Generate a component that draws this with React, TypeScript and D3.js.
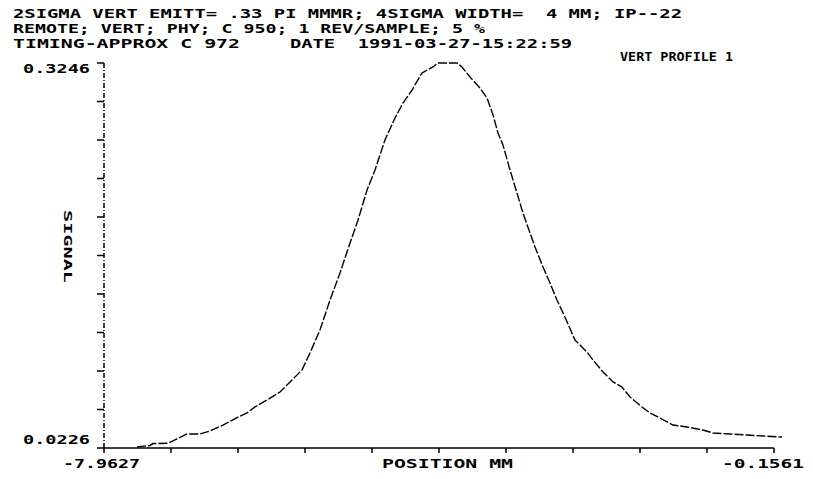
import React from 'react';
import * as d3 from 'd3';

// Profile samples (position in mm, signal)
const posMm = [
  -7.578, -7.427, -7.392, -7.217, -7.112, -6.996, -6.844, -6.728, -6.576, -6.401,
  -6.297, -6.203, -6.064, -5.912, -5.772, -5.656, -5.563, -5.446, -5.329, -5.213,
  -5.096, -5.003, -4.898, -4.805, -4.689, -4.572, -4.479, -4.374, -4.258, -4.129,
  -4.071, -3.850, -3.792, -3.698, -3.582, -3.500, -3.430, -3.372, -3.314, -3.232,
  -3.151, -3.081, -2.999, -2.941, -2.848, -2.766, -2.685, -2.592, -2.475, -2.335,
  -2.265, -2.149, -2.032, -1.927, -1.834, -1.694, -1.601, -1.485, -1.333, -1.170,
  -0.984, -0.867, -0.669, -0.471, -0.285, -0.063,
];
const signal = [
  0.0234, 0.0246, 0.0261, 0.0263, 0.0297, 0.0336, 0.0336, 0.0359, 0.0406, 0.0469,
  0.0501, 0.0548, 0.0603, 0.0665, 0.0759, 0.0838, 0.0971, 0.1152, 0.1387, 0.1599,
  0.1834, 0.2014, 0.2250, 0.2407, 0.2642, 0.2815, 0.2932, 0.3034, 0.3168, 0.3215,
  0.3246, 0.3246, 0.3215, 0.3136, 0.3050, 0.2971, 0.2838, 0.2697, 0.2603, 0.2407,
  0.2226, 0.2069, 0.1913, 0.1803, 0.1646, 0.1520, 0.1387, 0.1254, 0.1073, 0.0979,
  0.0916, 0.0822, 0.0744, 0.0704, 0.0626, 0.0548, 0.0501, 0.0461, 0.0406, 0.0391,
  0.0367, 0.0344, 0.0336, 0.0328, 0.0320, 0.0312,
];

const xDomain = [-7.9627, -0.1561];
const yDomain = [0.0226, 0.3246];
const xEndLabels = ['-7.9627', '-0.1561'];
const yEndLabels = ['0.0226', '0.3246'];
const tickCount = 10;

const header1 = '2SIGMA VERT EMITT= .33 PI MMMR; 4SIGMA WIDTH=  4 MM; IP--22';
const header2 = 'REMOTE; VERT; PHY; C 950; 1 REV/SAMPLE; 5 %';
const header3a = 'TIMING-APPROX C 972';
const header3b = 'DATE  1991-03-27-15:22:59';
const plotTitle = 'VERT PROFILE 1';
const xTitle = 'POSITION MM';
const yTitle = 'SIGNAL';

const font = '"DejaVu Sans Mono", "Liberation Mono", monospace';

export default function App() {
  const width = 813;
  const height = 479;
  const left = 104;
  const right = 774;
  const top = 63;
  const bottom = 448;

  const x = d3.scaleLinear().domain(xDomain).range([left, right]);
  const y = d3.scaleLinear().domain(yDomain).range([bottom, top]);

  const xTicks = d3.range(tickCount + 1).map(i => xDomain[0] + (i * (xDomain[1] - xDomain[0])) / tickCount);
  const yTicks = d3.range(tickCount + 1).map(i => yDomain[0] + (i * (yDomain[1] - yDomain[0])) / tickCount);

  const points = posMm.map((p, i) => [p, signal[i]] as [number, number]);
  const line = d3.line<[number, number]>()
    .x(d => x(d[0]))
    .y(d => y(d[1]));

  const txt = (s: string, tx: number, ty: number, len: number) => (
    <text x={tx} y={ty} textLength={len} lengthAdjust="spacingAndGlyphs"
      fontFamily={font} fontSize={13} fontWeight="bold" fill="#000"
      style={{ whiteSpace: 'pre' }}>{s}</text>
  );

  return (
    <svg width={width} height={height}
      style={{ position: 'absolute', left: 0, top: 0, background: '#fff' }}>
      {txt(header1, 13, 18, 669)}
      {txt(header2, 13, 33, 472)}
      {txt(header3a, 13, 48, 227)}
      {txt(header3b, 290, 48, 282)}
      {txt(plotTitle, 620, 61, 113)}

      {/* y axis */}
      <line x1={left} x2={left} y1={y(yDomain[0])} y2={y(yDomain[1])}
        stroke="#000" strokeWidth={1.5} strokeDasharray="5 2 1 2" />
      {yTicks.map((t, i) => (
        <line key={'yt' + i} x1={left - 7} x2={left} y1={y(t)} y2={y(t)}
          stroke="#000" strokeWidth={1.5} />
      ))}
      {txt(yEndLabels[1], 23, y(yDomain[1]) + 10, 67)}
      {txt(yEndLabels[0], 23, y(yDomain[0]) - 4, 67)}
      <text transform={`translate(64, 210) rotate(90)`} textLength={73}
        lengthAdjust="spacingAndGlyphs" fontFamily={font} fontSize={11} fontWeight="bold" fill="#000">{yTitle}</text>

      {/* x axis */}
      <line x1={x(xDomain[0])} x2={x(xDomain[1])} y1={bottom} y2={bottom}
        stroke="#000" strokeWidth={1.5} />
      {xTicks.map((t, i) => (
        <line key={'xt' + i} x1={x(t)} x2={x(t)} y1={bottom} y2={bottom + 5}
          stroke="#000" strokeWidth={1.5} />
      ))}
      {txt(xEndLabels[0], 63, 468, 77)}
      {txt(xTitle, 382, 468, 131)}
      {txt(xEndLabels[1], 722, 468, 82)}

      {/* profile */}
      <path d={line(points) || ''} fill="none" stroke="#000" strokeWidth={1.4}
        strokeDasharray="9 2" />
    </svg>
  );
}
